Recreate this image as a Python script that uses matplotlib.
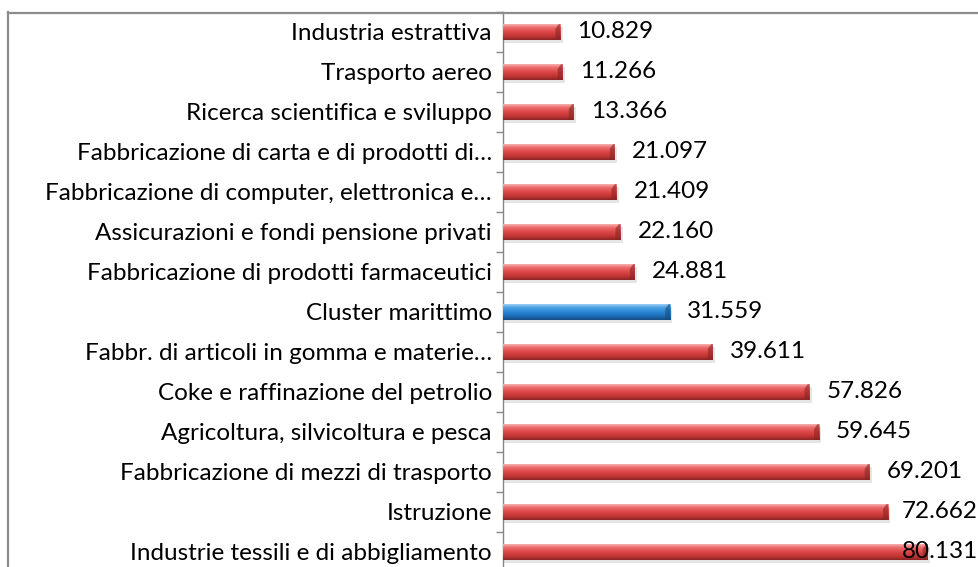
import numpy as np
import matplotlib.pyplot as plt
from matplotlib.lines import Line2D
from matplotlib.patches import Polygon
from matplotlib.colors import to_rgb

plt.rcParams['font.family'] = ['Lato', 'DejaVu Sans']

# data, top to bottom
categories = [
    'Industria estrattiva',
    'Trasporto aereo',
    'Ricerca scientifica e sviluppo',
    'Fabbricazione di carta e di prodotti di…',
    'Fabbricazione di computer, elettronica e…',
    'Assicurazioni e fondi pensione privati',
    'Fabbricazione di prodotti farmaceutici',
    'Cluster marittimo',
    'Fabbr. di articoli in gomma e materie…',
    'Coke e raffinazione del petrolio',
    'Agricoltura, silvicoltura e pesca',
    'Fabbricazione di mezzi di trasporto',
    'Istruzione',
    'Industrie tessili e di abbigliamento',
]
values = [10.829, 11.266, 13.366, 21.097, 21.409, 22.160, 24.881,
          31.559, 39.611, 57.826, 59.645, 69.201, 72.662, 80.131]
labels = ['10.829', '11.266', '13.366', '21.097', '21.409', '22.160', '24.881',
          '31.559', '39.611', '57.826', '59.645', '69.201', '72.662', '80.131']
highlight = 'Cluster marittimo'

W, H = 979, 567
fig = plt.figure(figsize=(W / 100, H / 100), dpi=100)
ax = fig.add_axes([503 / W, -5 / H, 476 / W, 560 / H])

y = np.arange(len(categories))
bh = 0.39
xmax = 476 / 5.3
fs = 17.5

# gradients for the cylinder look (top -> bottom)
red_grad = ['#f6b0b0', '#ec6a6a', '#dc4646', '#c43636', '#8a2424']
blue_grad = ['#9ccff4', '#4aa0e4', '#2a86d4', '#1d6db6', '#134c84']

def grad_img(cols):
    c = np.array([to_rgb(k) for k in cols])
    t = np.linspace(0, 1, 64)
    pos = [0, 0.22, 0.5, 0.75, 1]
    img = np.stack([np.interp(t, pos, c[:, j]) for j in range(3)], axis=1)
    return img[:, None, :]

for i, (cat, v) in enumerate(zip(categories, values)):
    cols = blue_grad if cat == highlight else red_grad
    # soft shadow
    ax.barh(i + 0.07, v + 0.4, height=bh, color='#000000', alpha=0.10, zorder=1)
    bar = ax.barh(i, v, height=bh, color=cols[2], zorder=2)[0]
    im = ax.imshow(grad_img(cols), extent=[0, v, i + bh / 2, i - bh / 2],
                   aspect='auto', zorder=3, interpolation='bilinear')
    im.set_clip_path(bar)
    # bevelled end face
    d = 0.95
    cap = Polygon([[v - d, i + bh / 2], [v - d, i - bh / 5],
                   [v - d * 0.35, i - bh / 2], [v, i - bh / 2], [v, i + bh / 2]],
                  closed=True, facecolor=cols[4], alpha=0.6,
                  edgecolor='none', zorder=4)
    ax.add_patch(cap)
    # labels pushed back inside the plot area when they would overflow
    tx = min(v + 3.2, 75.3)
    ax.text(tx, i, labels[i], va='center', ha='left', fontsize=fs,
            color='black', zorder=6)

ax.set_xlim(0, xmax)
ax.set_ylim(len(categories) - 0.5, -0.5)
ax.set_yticks(y)
ax.set_yticklabels(categories, fontsize=fs)
ax.set_yticks(np.arange(len(categories) + 1) - 0.5, minor=True)
ax.tick_params(axis='y', which='major', length=0, pad=8)
ax.tick_params(axis='y', which='minor', length=5, color='#868686', width=1)
ax.set_xticks([])
for s in ['top', 'right', 'bottom']:
    ax.spines[s].set_visible(False)
ax.spines['left'].set_color('#868686')
ax.spines['left'].set_linewidth(1)

# outer chart border (left and top visible)
fig.add_artist(Line2D([8.5 / W, 8.5 / W], [0, 1 - 12 / H], color='#8c8c8c', lw=1.6))
fig.add_artist(Line2D([8 / W, 1], [1 - 12.5 / H, 1 - 12.5 / H], color='#8c8c8c', lw=1.6))

fig.savefig('out.png', dpi=100)
